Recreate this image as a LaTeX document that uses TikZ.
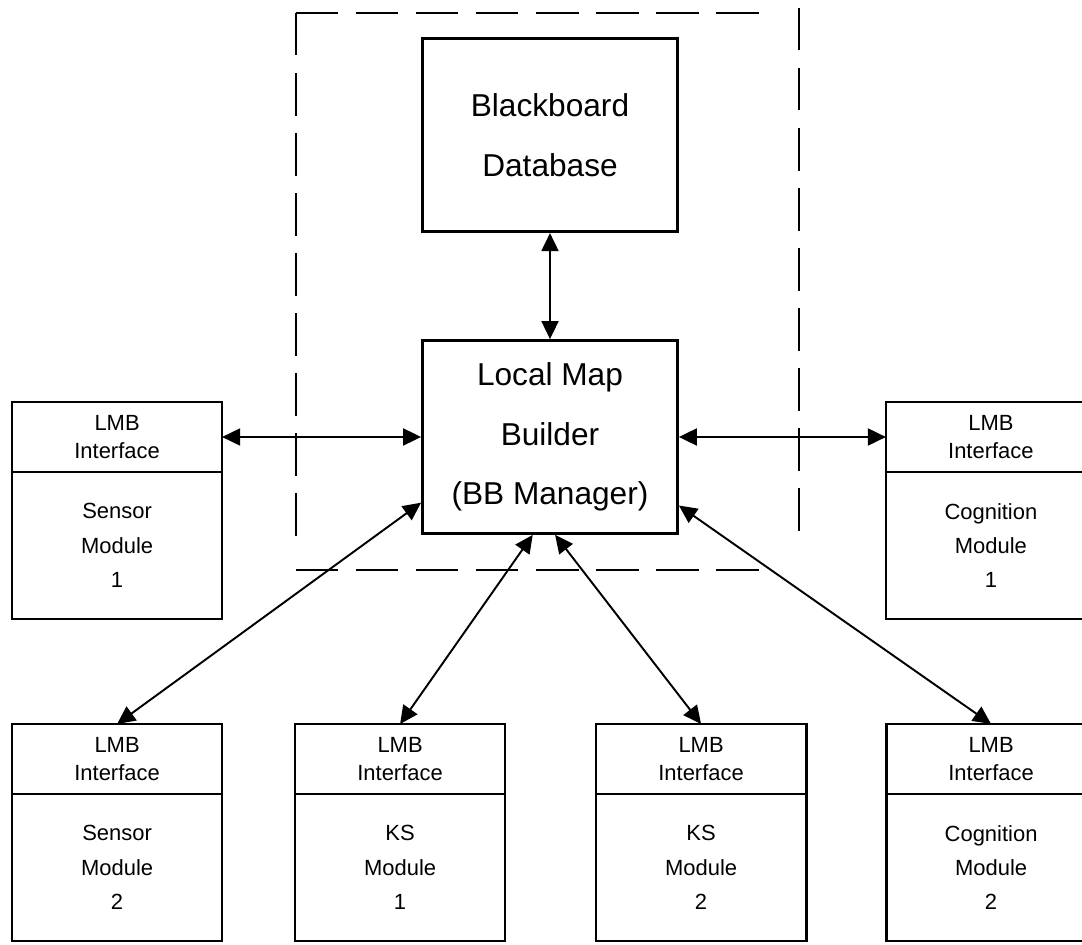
\documentclass[tikz,border=0pt]{standalone}
\usepackage{fontspec}
\setmainfont{Liberation Sans}
\usepackage{tikz}
\usetikzlibrary{arrows.meta, positioning}

\begin{document}
\begin{tikzpicture}[
  node distance=2cm,
  bigbox/.style={rectangle, draw, line width=1.6pt, minimum width=5.1cm, minimum height=3.86cm, align=center, font=\fontsize{18}{34}\selectfont},
  iface/.style={rectangle, draw, line width=1.6pt, outer sep=0pt, minimum width=4.2cm, minimum height=1.4cm, align=center, font=\fontsize{12.5}{15.5}\selectfont},
  modbody/.style={rectangle, draw, line width=1.6pt, outer sep=0pt, minimum width=4.2cm, minimum height=2.94cm, align=center, font=\fontsize{12.5}{19.5}\selectfont},
  bound/.style={line width=1.6pt, dash pattern=on 0.85cm off 0.35cm},
  arrow/.style={{Triangle[length=3.6mm, width=3.4mm]}-{Triangle[length=3.6mm, width=3.4mm]}, line width=1.1pt}
  ]

\useasboundingbox (-11.0,-10.16) rectangle (10.64,8.74);

\node[bigbox] (lmb) at (0,0) {Local Map\\Builder\\(BB Manager)};

\node[bigbox, above=2.12cm of lmb] (bb) {Blackboard\\Database};

\node[iface, left=3.98cm of lmb] (s1if) {LMB\\Interface};
\node[modbody, below=0pt of s1if] (s1) {Sensor\\Module\\1};

\node[iface, right=4.14cm of lmb] (c1if) {LMB\\Interface};
\node[modbody, below=0pt of c1if] (c1) {Cognition\\Module\\1};

\node[iface, below=2.1cm of s1] (s2if) {LMB\\Interface};
\node[modbody, below=0pt of s2if] (s2) {Sensor\\Module\\2};

\node[iface, right=1.46cm of s2if] (k1if) {LMB\\Interface};
\node[modbody, below=0pt of k1if] (k1) {KS\\Module\\1};

\node[iface, right=1.82cm of k1if] (k2if) {LMB\\Interface};
\node[modbody, below=0pt of k2if] (k2) {KS\\Module\\2};

\node[iface, right=1.6cm of k2if] (c2if) {LMB\\Interface};
\node[modbody, below=0pt of c2if] (c2) {Cognition\\Module\\2};

\draw[bound] (-5.08,8.48) -- (4.5,8.48);
\draw[bound] (-5.08,8.48) -- (-5.08,-2.16);
\draw[bound] (4.98,8.58) -- (4.98,-2.2);
\draw[bound] (-5.08,-2.66) -- (4.5,-2.66);

\draw[arrow] (bb.south) -- (lmb.north);
\draw[arrow] (s1if.east) -- (s1if.east -| lmb.west);
\draw[arrow] (lmb.east |- c1if.west) -- (c1if.west);
\draw[arrow] (lmb.207) -- (s2if.north);
\draw[arrow] (lmb.260) -- (k1if.north);
\draw[arrow] (lmb.273) -- (k2if.north);
\draw[arrow] (lmb.332) -- (c2if.north);

\end{tikzpicture}
\end{document}
